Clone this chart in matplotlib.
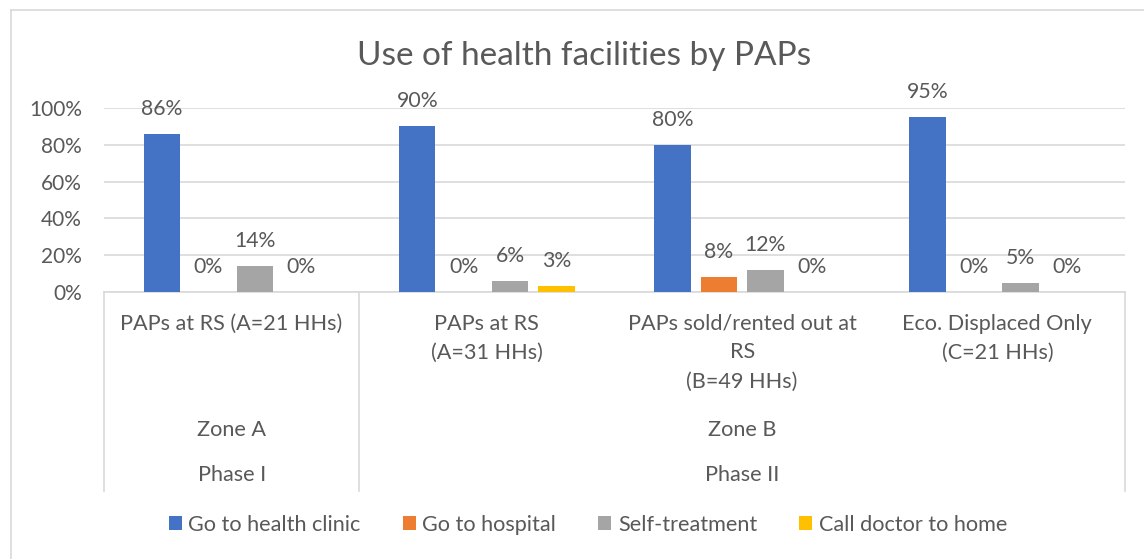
import matplotlib
matplotlib.use("Agg")
import matplotlib.pyplot as plt
import matplotlib.transforms as mtransforms
from matplotlib.lines import Line2D
from matplotlib.ticker import PercentFormatter

plt.rcParams['font.family'] = ['Lato', 'DejaVu Sans']

# ---- data ----
categories = ["PAPs at RS (A=21 HHs)", "PAPs at RS\n(A=31 HHs)",
              "PAPs sold/rented out at\nRS\n(B=49 HHs)", "Eco. Displaced Only\n(C=21 HHs)"]
zones = ["Zone A", "Zone B"]
zone_span = [(0, 0), (1, 3)]
phases = ["Phase I", "Phase II"]
series_names = ["Go to health clinic", "Go to hospital", "Self-treatment", "Call doctor to home"]
health_clinic = [86, 90, 80, 95]
hospital = [0, 0, 8, 0]
self_treatment = [14, 6, 12, 5]
call_doctor = [0, 3, 0, 0]
series_values = [health_clinic, hospital, self_treatment, call_doctor]
colors = ["#4472C4", "#ED7D31", "#A5A5A5", "#FFC000"]
title = "Use of health facilities by PAPs"

W, H = 1144, 559
TXT = "#595959"
GRID = "#D9D9D9"
FS = 15.6

fig = plt.figure(figsize=(W / 100, H / 100), dpi=100)
ax = fig.add_axes([104 / W, 1 - 292 / H, (1125 - 104) / W, (292 - 108) / H])

bar_w = 0.143
step = 0.182
handles = []
for si, (name, vals, c) in enumerate(zip(series_names, series_values, colors)):
    xs = [i + (si - 1.5) * step for i in range(len(categories))]
    b = ax.bar(xs, [v / 100 for v in vals], width=bar_w, color=c, label=name, zorder=3)
    handles.append(b)
    for x, v in zip(xs, vals):
        ax.annotate(f"{v}%", (x, v / 100), xytext=(0, 18), textcoords="offset points",
                    ha="center", va="center", fontsize=15.3, color=TXT, annotation_clip=False)

ax.set_xlim(-0.5, len(categories) - 0.5)
ax.set_ylim(0, 1)
ax.set_yticks([0, 0.2, 0.4, 0.6, 0.8, 1.0])
ax.yaxis.set_major_formatter(PercentFormatter(1.0, decimals=0))
ax.tick_params(axis="y", length=0, pad=16, labelsize=15, labelcolor=TXT)
ax.set_xticks([])
ax.grid(axis="y", color=GRID, lw=1.2, zorder=0)
for s in ["top", "right", "left"]:
    ax.spines[s].set_visible(False)
ax.spines["bottom"].set_color(GRID)
ax.spines["bottom"].set_linewidth(1.2)

# multi-level category axis
trans = mtransforms.blended_transform_factory(ax.transData, fig.transFigure)
def fy(p):
    return 1 - p / H

line_gap = 29
for i, lab in enumerate(categories):
    for k, ln in enumerate(lab.split("\n")):
        ax.text(i, fy(323.5 + k * line_gap), ln, transform=trans, ha="center", va="center",
                fontsize=FS, color=TXT, clip_on=False)
for zname, pname, (a, b) in zip(zones, phases, zone_span):
    xc = (a + b) / 2
    ax.text(xc, fy(430), zname, transform=trans, ha="center", va="center",
            fontsize=FS, color=TXT, clip_on=False)
    ax.text(xc, fy(475), pname, transform=trans, ha="center", va="center",
            fontsize=FS, color=TXT, clip_on=False)

# separators
for xb in [-0.5, 0.5, len(categories) - 0.5]:
    ax.add_line(Line2D([xb, xb], [fy(292), fy(491)], transform=trans, color=GRID,
                       lw=1.2, clip_on=False))

# title
fig.text(584 / W, fy(56), title, ha="center", va="center", fontsize=24, color=TXT)

# outer chart border (left and top visible)
fig.add_artist(Line2D([10.5 / W, 10.5 / W], [0, fy(9.5)], transform=fig.transFigure,
                      color=GRID, lw=1.2))
fig.add_artist(Line2D([10.5 / W, 1], [fy(9.5), fy(9.5)], transform=fig.transFigure,
                      color=GRID, lw=1.2))

leg = fig.legend(handles=handles, labels=series_names, ncol=4, loc="center",
                 bbox_to_anchor=(588 / W, fy(525)), frameon=False, fontsize=FS,
                 handlelength=0.6, handleheight=0.6, handletextpad=0.3,
                 columnspacing=1.95, labelcolor=TXT)

fig.savefig("out.png", dpi=100)
